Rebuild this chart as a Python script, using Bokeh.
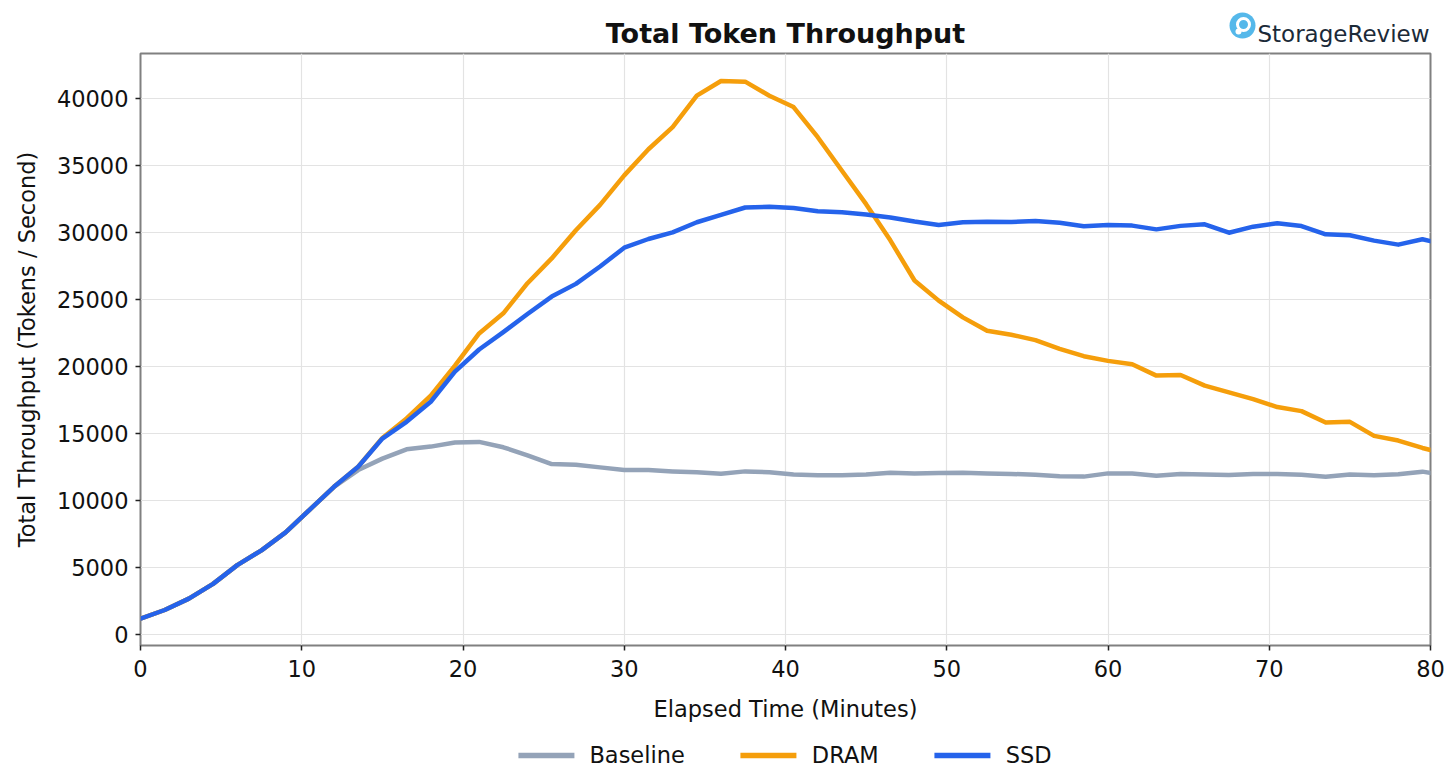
from bokeh.plotting import figure
from bokeh.layouts import column
from bokeh.models import (Range1d, FixedTicker, Legend, LegendItem, Label,
                          ColumnDataSource)
from bokeh.embed import file_html
from bokeh.resources import INLINE

# Sample times (minutes) — one sample every 1.5 minutes
minutes = [1.5 * k for k in range(55)]

baseline = [
    1150, 1800, 2650, 3750, 5150, 6250, 7600, 9300, 11000, 12250,
    13100, 13800, 14000, 14300, 14350, 13950, 13350, 12700, 12650, 12450,
    12250, 12250, 12150, 12080, 11980, 12150, 12080, 11920, 11870, 11860,
    11920, 12040, 11990, 12030, 12050, 11990, 11960, 11890, 11790, 11760,
    12000, 12000, 11830, 11950, 11910, 11880, 11950, 11950, 11890, 11750,
    11920, 11870, 11940, 12130, 11850,
]
dram = [
    1150, 1800, 2650, 3750, 5150, 6250, 7600, 9300, 11000, 12500,
    14650, 16100, 17800, 20050, 22450, 23950, 26200, 28050, 30150, 32050,
    34250, 36200, 37850, 40200, 41300, 41250, 40200, 39350, 37100, 34600,
    32100, 29400, 26400, 24900, 23650, 22650, 22350, 21950, 21300, 20750,
    20400, 20150, 19300, 19350, 18550, 18050, 17550, 16950, 16650, 15800,
    15850, 14800, 14450, 13900, 13450,
]
ssd = [
    1150, 1800, 2650, 3750, 5150, 6250, 7600, 9300, 11000, 12500,
    14600, 15850, 17350, 19600, 21250, 22550, 23900, 25200, 26150, 27450,
    28850, 29500, 30000, 30750, 31300, 31850, 31900, 31820, 31570, 31500,
    31330, 31100, 30800, 30550, 30750, 30790, 30770, 30850, 30720, 30450,
    30550, 30500, 30220, 30480, 30600, 29970, 30420, 30680, 30470, 29850,
    29780, 29380, 29080, 29480, 29050,
]

series_names = ["Baseline", "DRAM", "SSD"]
series_colors = ["#94a3b8", "#f59e0b", "#2563eb"]

x_ticks = [0, 10, 20, 30, 40, 50, 60, 70, 80]
y_ticks = [0, 5000, 10000, 15000, 20000, 25000, 30000, 35000, 40000]

FONT = "DejaVu Sans"
TXT = "22.5px"
WIDTH = 1450
HEADER_H, FOOTER_H = 50, 51
FRAME_L, FRAME_W, FRAME_H = 140, 1290, 592
FRAME_R = FRAME_L + FRAME_W


def strip(height):
    """A bare figure whose frame lines up with the chart frame."""
    f = figure(width=WIDTH, height=height, output_backend="svg",
               toolbar_location=None, x_range=Range1d(FRAME_L, FRAME_R),
               y_range=Range1d(height, 0), min_border=0,
               x_axis_type=None, y_axis_type=None)
    f.outline_line_color = None
    f.grid.visible = False
    return f


# ---- header: chart title and brand mark (pixel coordinates) ----
head = strip(HEADER_H)
head.add_layout(Label(x=FRAME_L + FRAME_W / 2, y=33,
                      text="Total Token Throughput", text_font=FONT,
                      text_font_size="27px", text_font_style="bold",
                      text_color="#111111", text_align="center",
                      text_baseline="alphabetic"))
head.add_layout(Label(x=FRAME_R - 1, y=33, text="StorageReview",
                      text_font=FONT, text_font_size="23px",
                      text_color="#1b2a38", text_align="right",
                      text_baseline="alphabetic"))
head.scatter([1242], [25], size=26, marker="circle", fill_color="#55b8ea",
             line_color=None)
head.scatter([1243], [24], size=12, marker="circle", fill_color=None,
             line_color="#ffffff", line_width=3)
head.scatter([1238], [31], size=6, marker="circle", fill_color="#ffffff",
             line_color=None)

# ---- main chart ----
p = figure(
    frame_width=FRAME_W, frame_height=FRAME_H,
    output_backend="svg", toolbar_location=None,
    x_range=Range1d(0, 80), y_range=Range1d(-850, 43350),
    min_border_left=FRAME_L, min_border_right=WIDTH - FRAME_R,
    min_border_top=3, min_border_bottom=84,
)

p.outline_line_color = "#808080"
p.outline_line_width = 2

for ax in (p.xaxis, p.yaxis):
    ax.axis_line_color = None
    ax.major_tick_line_color = "#222222"
    ax.major_tick_line_width = 1.5
    ax.major_tick_out = 5
    ax.major_tick_in = 0
    ax.minor_tick_line_color = None
    ax.major_label_text_font = FONT
    ax.major_label_text_font_size = TXT
    ax.major_label_text_color = "#111111"
    ax.axis_label_text_font = FONT
    ax.axis_label_text_font_size = TXT
    ax.axis_label_text_font_style = "normal"
    ax.axis_label_text_color = "#111111"

p.xaxis.ticker = FixedTicker(ticks=x_ticks)
p.yaxis.ticker = FixedTicker(ticks=y_ticks)
p.xaxis.axis_label = "Elapsed Time (Minutes)"
p.yaxis.axis_label = "Total Throughput (Tokens / Second)"
p.xaxis.major_label_standoff = 9
p.xaxis.axis_label_standoff = 16
p.yaxis.major_label_standoff = 7
p.yaxis.axis_label_standoff = 14

p.xgrid.grid_line_color = "#e3e3e3"
p.ygrid.grid_line_color = "#e3e3e3"
p.xgrid.grid_line_width = 1.2
p.ygrid.grid_line_width = 1.2
p.xgrid.ticker = FixedTicker(ticks=x_ticks)
p.ygrid.ticker = FixedTicker(ticks=y_ticks)

for color, values in zip(series_colors, [baseline, dram, ssd]):
    src = ColumnDataSource(dict(t=minutes, v=values))
    p.line("t", "v", source=src, line_color=color, line_width=4.5,
           line_join="round", line_cap="round")

# ---- footer: horizontal legend ----
# legend keys: lines styled like the series, parked outside the strip's view
foot = strip(FOOTER_H)
items = []
for name, color in zip(series_names, series_colors):
    key = foot.line(x=[FRAME_L - 50, FRAME_L - 40], y=[-20, -20],
                    line_color=color, line_width=5.5, line_cap="round")
    items.append(LegendItem(label=name, renderers=[key]))
foot.add_layout(Legend(items=items, orientation="horizontal",
                       location="center", label_text_font=FONT,
                       label_text_font_size=TXT, label_text_color="#111111",
                       glyph_width=56, label_standoff=15, spacing=56,
                       border_line_color=None, background_fill_alpha=0,
                       margin=0, padding=0))

layout = column(head, p, foot, spacing=0)
open("out.html", "w").write(file_html(layout, INLINE))
